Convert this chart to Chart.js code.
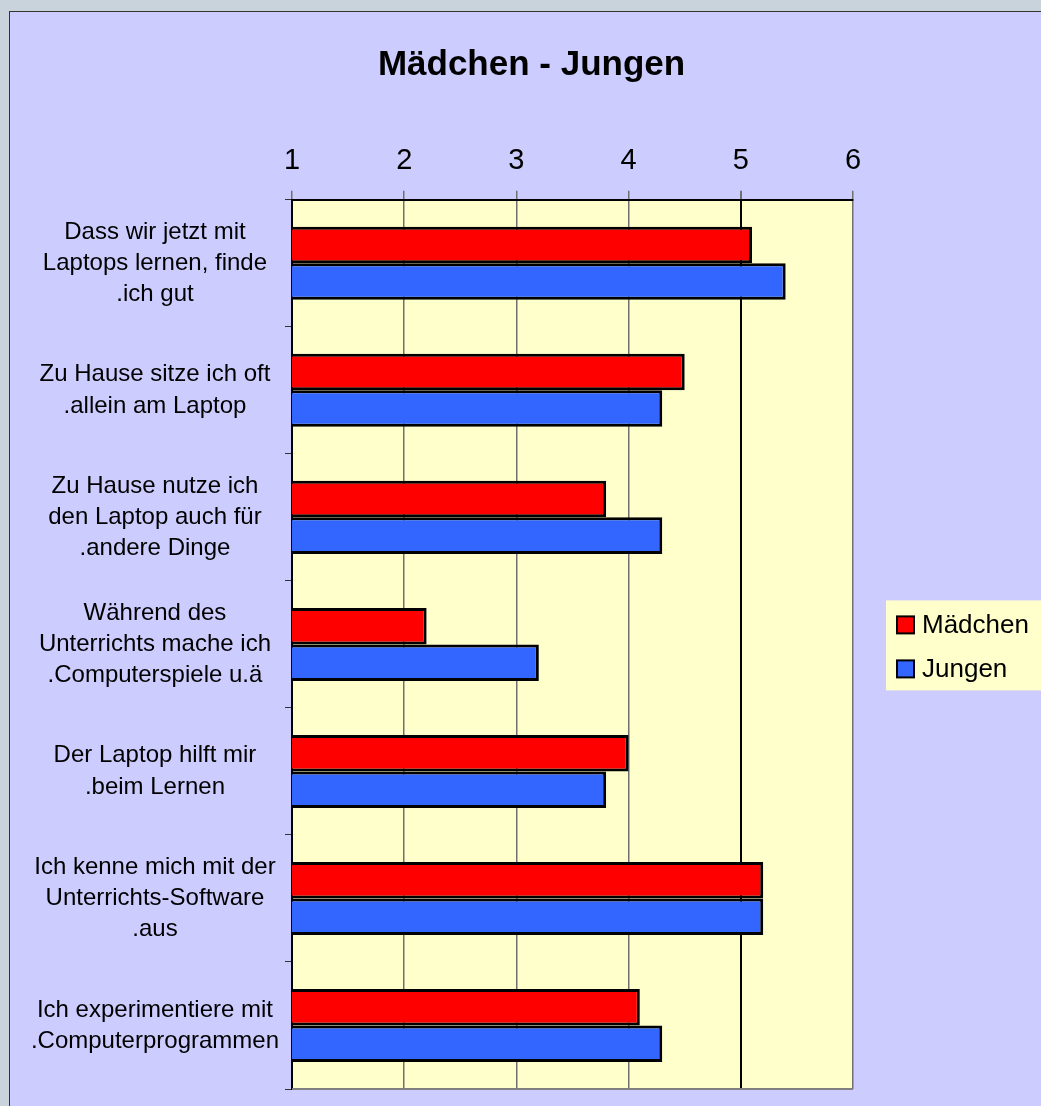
<!DOCTYPE html>
<html>
<head>
<meta charset="utf-8">
<script src="https://cdn.jsdelivr.net/npm/chart.js@4/dist/chart.umd.min.js"></script>
<style>
  html, body { margin: 0; padding: 0; background: #c9d3db; overflow: hidden; }
  #frame {
    position: absolute; left: 9px; top: 11px;
    width: 1031px; height: 1094px;
    border-left: 1px solid #333; border-top: 1px solid #333;
    background: #ccccff;
  }
  #chart { display: block; }
</style>
</head>
<body>
<div id="frame"><canvas id="chart" width="1031" height="1094"></canvas></div>
<script>
const questions = [
  ["Dass wir jetzt mit", "Laptops lernen, finde", ".ich gut"],
  ["Zu Hause sitze ich oft", ".allein am Laptop"],
  ["Zu Hause nutze ich", "den Laptop auch für", ".andere Dinge"],
  ["Während des", "Unterrichts mache ich", ".Computerspiele u.ä"],
  ["Der Laptop hilft mir", ".beim Lernen"],
  ["Ich kenne mich mit der", "Unterrichts-Software", ".aus"],
  ["Ich experimentiere mit", ".Computerprogrammen"],
];
const maedchen = [5.1, 4.5, 3.8, 2.2, 4.0, 5.2, 4.1];
const jungen = [5.4, 4.3, 4.3, 3.2, 3.8, 5.2, 4.3];
const scaleMin = 1;
const scaleMax = 6;

const FONT = "'Liberation Sans', Arial, sans-serif";

// yellow plot background + grey bottom edge
const plotBackground = {
  id: "plotBackground",
  beforeDraw(chart) {
    const { ctx, chartArea: a } = chart;
    ctx.save();
    ctx.fillStyle = "#ffffcc";
    ctx.fillRect(a.left, a.top, a.right - a.left, a.bottom - a.top);
    ctx.restore();
  },
  afterDatasetsDraw(chart) {
    const { ctx, chartArea: a } = chart;
    ctx.save();
    ctx.strokeStyle = "#808080";
    ctx.lineWidth = 2;
    ctx.beginPath();
    ctx.moveTo(a.left, a.bottom);
    ctx.lineTo(a.right, a.bottom);
    ctx.stroke();
    ctx.restore();
  },
};

// legend box on the right, like the spreadsheet one
const boxLegend = {
  id: "boxLegend",
  afterDraw(chart) {
    const { ctx, chartArea: a } = chart;
    const sets = chart.data.datasets;
    const rowH = 44;
    const boxW = 170;
    const boxH = 90;
    const left = a.right + 33;
    const top = (a.top + a.bottom) / 2 - boxH / 2 + 1;
    ctx.save();
    ctx.fillStyle = "#ffffcc";
    ctx.fillRect(left, top, boxW, boxH);
    ctx.font = "26px " + FONT;
    ctx.textBaseline = "middle";
    sets.forEach((ds, i) => {
      const cy = top + 24 + i * rowH;
      ctx.fillStyle = ds.backgroundColor;
      ctx.fillRect(left + 11, cy - 8, 17, 17);
      ctx.strokeStyle = "#000";
      ctx.lineWidth = 2;
      ctx.strokeRect(left + 11, cy - 8, 17, 17);
      ctx.fillStyle = "#000";
      ctx.fillText(ds.label, left + 36, cy + 1);
    });
    ctx.restore();
  },
};

new Chart(document.getElementById("chart"), {
  type: "bar",
  data: {
    labels: questions,
    datasets: [
      {
        label: "Mädchen",
        data: maedchen,
        backgroundColor: "#ff0000",
        borderColor: "#000000",
        borderWidth: 3,
        borderSkipped: false,
      },
      {
        label: "Jungen",
        data: jungen,
        backgroundColor: "#3366ff",
        borderColor: "#000000",
        borderWidth: 3,
        borderSkipped: false,
      },
    ],
  },
  options: {
    indexAxis: "y",
    responsive: false,
    animation: false,
    categoryPercentage: 0.575,
    barPercentage: 1.0,
    layout: {
      padding: { left: 12, right: 0, top: 0, bottom: 17 },
    },
    plugins: {
      legend: { display: false },
      tooltip: { enabled: false },
      title: {
        display: true,
        text: "Mädchen - Jungen",
        color: "#000",
        font: { family: FONT, size: 35, weight: "bold" },
        padding: { top: 32, bottom: 46 },
      },
    },
    scales: {
      x: {
        position: "top",
        min: scaleMin,
        max: scaleMax,
        ticks: {
          stepSize: 1,
          color: "#000",
          padding: 12,
          font: { family: FONT, size: 29 },
        },
        grid: {
          tickLength: 9,
          color: (c) => (c.tick && c.tick.value === 5 ? "#000" : "#707070"),
          lineWidth: (c) => (c.tick && c.tick.value === 5 ? 2 : 1.5),
          tickColor: "#707070",
        },
        border: { color: "#000", width: 2 },
      },
      y: {
        afterFit(scale) {
          scale.width = 270;
          scale.paddingTop = 0;
          scale.paddingBottom = 0;
        },
        ticks: {
          color: "#000",
          crossAlign: "center",
          padding: 6,
          font: { family: FONT, size: 24, lineHeight: 1.3 },
        },
        grid: {
          offset: true,
          drawOnChartArea: false,
          tickLength: 7,
          color: "#333",
          lineWidth: 1,
        },
        border: { color: "#000", width: 2 },
      },
      // empty space on the right for the legend box
      legendSpace: {
        type: "linear",
        axis: "y",
        position: "right",
        afterFit(scale) {
          scale.width = 188;
          scale.paddingTop = 0;
          scale.paddingBottom = 0;
        },
        ticks: { display: false },
        grid: { display: false },
        border: { display: false },
      },
    },
  },
  plugins: [plotBackground, boxLegend],
});
</script>
</body>
</html>
